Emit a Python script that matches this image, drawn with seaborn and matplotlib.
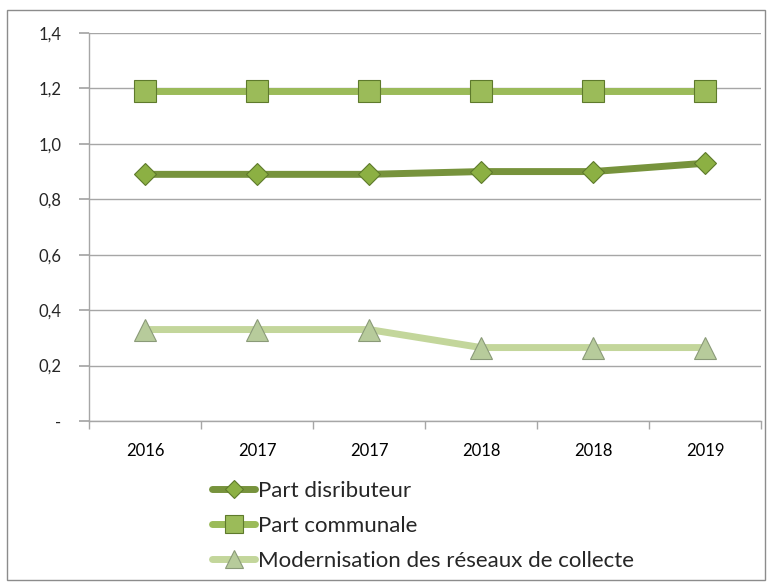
import matplotlib
matplotlib.use("Agg")
import matplotlib.pyplot as plt
import seaborn as sns
import pandas as pd
from matplotlib.patches import Rectangle

categories = ["2016", "2017", "2017", "2018", "2018", "2019"]
part_distributeur = [0.89, 0.89, 0.89, 0.90, 0.90, 0.93]
part_communale = [1.19, 1.19, 1.19, 1.19, 1.19, 1.19]
modernisation = [0.33, 0.33, 0.33, 0.265, 0.265, 0.265]
series_names = ["Part disributeur", "Part communale", "Modernisation des réseaux de collecte"]
ytick_values = [0, 0.2, 0.4, 0.6, 0.8, 1.0, 1.2, 1.4]
ytick_labels = ["-", "0,2", "0,4", "0,6", "0,8", "1,0", "1,2", "1,4"]

sns.set_theme(style="white")
plt.rcParams['font.family'] = ['Lato', 'DejaVu Sans']

rows = []
for name, vals in zip(series_names, [part_distributeur, part_communale, modernisation]):
    for i, v in enumerate(vals):
        rows.append({"pos": i, "value": v, "series": name})
df = pd.DataFrame(rows)

fig = plt.figure(figsize=(7.73, 5.86), dpi=100)
ax = fig.add_axes([89/773, 1-421/586, (761-89)/773, (421-33)/586])

styles = {
    series_names[0]: dict(line="#77933C", face="#8CB043", edge="#5E7A2C", marker="D", ms=11, lw=5),
    series_names[1]: dict(line="#9BBB59", face="#9BBB59", edge="#5E7A2C", marker="s", ms=16, lw=5),
    series_names[2]: dict(line="#C3D69B", face="#B7CB9B", edge="#8A9A78", marker="^", ms=16, lw=5),
}

for name in series_names:
    st = styles[name]
    sub = df[df["series"] == name]
    sns.lineplot(data=sub, x="pos", y="value", ax=ax, color=st["line"], linewidth=st["lw"],
                 marker=st["marker"], markersize=st["ms"], markerfacecolor=st["face"],
                 markeredgecolor=st["edge"], markeredgewidth=0.8, label=name, zorder=3)

ax.set_xlim(-0.5, len(categories) - 0.5)
ax.set_ylim(0, 1.4)
ax.set_xticks(range(len(categories)))
ax.set_xticklabels(categories, fontsize=12)
ax.set_yticks(ytick_values)
ax.set_yticklabels(ytick_labels, fontsize=12)
ax.set_xlabel("")
ax.set_ylabel("")
ax.yaxis.grid(True, color="#A6A6A6", linewidth=1)
ax.set_axisbelow(True)
for s in ["top", "right"]:
    ax.spines[s].set_visible(False)
ax.spines["left"].set_color("#A6A6A6")
ax.spines["bottom"].set_color("#A6A6A6")
ax.spines["left"].set_linewidth(1)
ax.spines["bottom"].set_linewidth(1)

ax.set_xticks([i - 0.5 for i in range(len(categories) + 1)], minor=True)
ax.tick_params(axis="x", which="major", length=0, pad=16, colors="black")
ax.tick_params(axis="x", which="minor", length=6, direction="out", color="#A6A6A6", bottom=True)
ax.tick_params(axis="y", which="major", length=7, direction="out", color="#A6A6A6", left=True, pad=13)

leg = ax.legend(loc="center left", bbox_to_anchor=(212/773, 1-526/586), bbox_transform=fig.transFigure,
                frameon=False, fontsize=16, handlelength=1.95, handletextpad=0.1, labelspacing=0.68,
                borderaxespad=0, borderpad=0, markerscale=0.8)

fig.patches.append(Rectangle((7/773, 1-580/586), (765-7)/773, (580-10)/586, transform=fig.transFigure,
                             fill=False, edgecolor="#8C8C8C", linewidth=1))

fig.savefig("out.png", dpi=100)
